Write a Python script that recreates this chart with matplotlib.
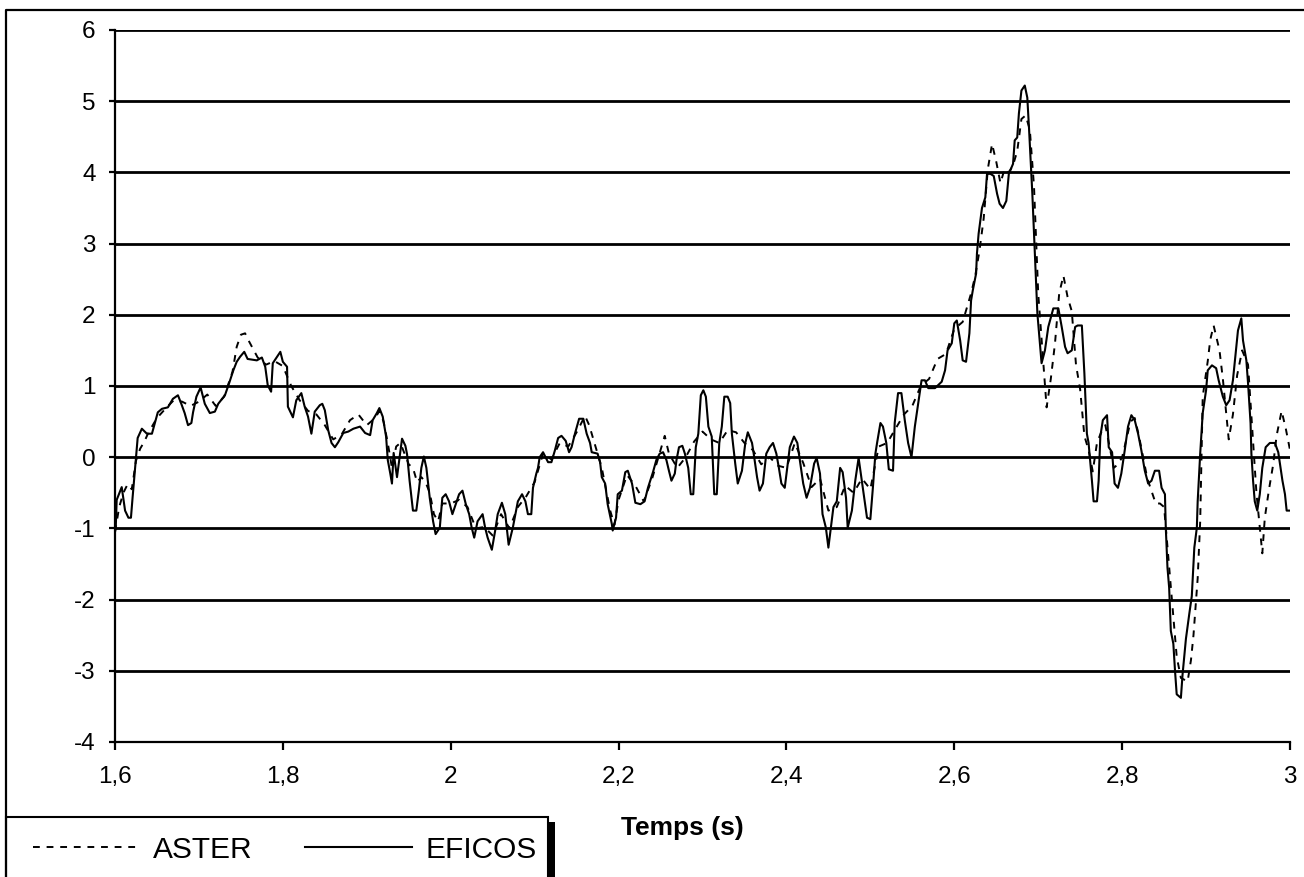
import matplotlib
matplotlib.use('Agg')
import matplotlib.pyplot as plt
from matplotlib.lines import Line2D
from matplotlib.patches import Rectangle

plt.rcParams['font.family'] = ['Liberation Sans', 'DejaVu Sans']

# EFICOS (solid) - time (s) and value
t_eficos = [1.600, 1.601, 1.602, 1.608, 1.612, 1.616, 1.619, 1.621, 1.624, 1.627, 1.632, 1.638, 1.644, 1.648, 1.651, 1.656,
            1.663, 1.669, 1.675, 1.679, 1.683, 1.687, 1.691, 1.693, 1.697, 1.702, 1.707, 1.713, 1.719, 1.723, 1.731, 1.736,
            1.741, 1.745, 1.749, 1.754, 1.758, 1.769, 1.775, 1.779, 1.782, 1.786, 1.788, 1.793, 1.797, 1.800, 1.805, 1.806,
            1.812, 1.816, 1.822, 1.826, 1.830, 1.834, 1.838, 1.844, 1.847, 1.850, 1.854, 1.858, 1.862, 1.866, 1.872, 1.878,
            1.884, 1.892, 1.898, 1.904, 1.907, 1.912, 1.915, 1.919, 1.923, 1.925, 1.928, 1.930, 1.932, 1.936, 1.942, 1.946,
            1.948, 1.951, 1.955, 1.959, 1.962, 1.965, 1.968, 1.971, 1.975, 1.979, 1.982, 1.987, 1.990, 1.994, 1.998, 2.002,
            2.006, 2.010, 2.014, 2.018, 2.022, 2.025, 2.028, 2.032, 2.038, 2.041, 2.044, 2.049, 2.053, 2.056, 2.061, 2.065,
            2.069, 2.074, 2.080, 2.085, 2.089, 2.092, 2.096, 2.098, 2.102, 2.104, 2.106, 2.110, 2.116, 2.120, 2.124, 2.128,
            2.132, 2.137, 2.141, 2.144, 2.148, 2.153, 2.158, 2.162, 2.166, 2.168, 2.175, 2.178, 2.180, 2.184, 2.187, 2.192,
            2.193, 2.197, 2.199, 2.204, 2.208, 2.211, 2.216, 2.220, 2.226, 2.231, 2.235, 2.241, 2.245, 2.249, 2.253, 2.257,
            2.260, 2.263, 2.267, 2.269, 2.272, 2.276, 2.279, 2.283, 2.286, 2.289, 2.292, 2.295, 2.298, 2.301, 2.304, 2.307,
            2.311, 2.314, 2.317, 2.320, 2.323, 2.326, 2.330, 2.333, 2.335, 2.339, 2.342, 2.347, 2.351, 2.354, 2.359, 2.361,
            2.365, 2.368, 2.372, 2.376, 2.380, 2.384, 2.388, 2.391, 2.394, 2.398, 2.401, 2.404, 2.409, 2.413, 2.416, 2.420,
            2.424, 2.428, 2.433, 2.436, 2.440, 2.443, 2.447, 2.450, 2.453, 2.456, 2.460, 2.464, 2.467, 2.471, 2.473, 2.478,
            2.482, 2.486, 2.491, 2.496, 2.500, 2.503, 2.506, 2.508, 2.512, 2.515, 2.519, 2.522, 2.527, 2.529, 2.533, 2.537,
            2.541, 2.545, 2.549, 2.553, 2.557, 2.561, 2.565, 2.569, 2.577, 2.585, 2.589, 2.592, 2.597, 2.600, 2.603, 2.607,
            2.610, 2.614, 2.618, 2.620, 2.622, 2.626, 2.627, 2.629, 2.633, 2.637, 2.639, 2.643, 2.647, 2.651, 2.654, 2.658,
            2.662, 2.665, 2.670, 2.672, 2.675, 2.677, 2.680, 2.684, 2.687, 2.689, 2.691, 2.693, 2.695, 2.697, 2.699, 2.701,
            2.704, 2.708, 2.712, 2.718, 2.724, 2.728, 2.732, 2.735, 2.740, 2.744, 2.747, 2.752, 2.755, 2.758, 2.760, 2.764,
            2.766, 2.770, 2.772, 2.774, 2.777, 2.782, 2.784, 2.788, 2.791, 2.795, 2.799, 2.803, 2.807, 2.811, 2.815, 2.819,
            2.823, 2.827, 2.831, 2.835, 2.839, 2.844, 2.847, 2.851, 2.852, 2.854, 2.856, 2.858, 2.861, 2.863, 2.865, 2.870,
            2.872, 2.876, 2.880, 2.883, 2.886, 2.889, 2.890, 2.893, 2.896, 2.900, 2.902, 2.907, 2.912, 2.915, 2.920, 2.924,
            2.928, 2.932, 2.936, 2.938, 2.942, 2.944, 2.948, 2.950, 2.953, 2.954, 2.956, 2.958, 2.961, 2.964, 2.967, 2.971,
            2.976, 2.982, 2.986, 2.991, 2.994, 2.996, 3.000]
eficos = [-1.05, -0.95, -0.6, -0.42, -0.75, -0.85, -0.85, -0.56, -0.15, 0.27, 0.4, 0.33, 0.33, 0.5, 0.63, 0.68,
          0.7, 0.82, 0.87, 0.75, 0.62, 0.45, 0.48, 0.63, 0.85, 0.98, 0.75, 0.62, 0.64, 0.75, 0.87, 1.04,
          1.22, 1.34, 1.41, 1.48, 1.38, 1.36, 1.4, 1.27, 1.01, 0.92, 1.32, 1.41, 1.48, 1.34, 1.27, 0.71,
          0.56, 0.8, 0.9, 0.71, 0.57, 0.33, 0.64, 0.73, 0.75, 0.66, 0.38, 0.2, 0.14, 0.21, 0.34, 0.36,
          0.4, 0.43, 0.34, 0.31, 0.52, 0.62, 0.69, 0.57, 0.29, -0.04, -0.23, -0.37, 0.06, -0.28, 0.26, 0.16,
          0.04, -0.33, -0.75, -0.75, -0.47, -0.15, 0.01, -0.15, -0.57, -0.9, -1.08, -0.99, -0.57, -0.52, -0.62, -0.8,
          -0.66, -0.52, -0.47, -0.66, -0.8, -0.99, -1.13, -0.9, -0.8, -0.99, -1.13, -1.3, -1.03, -0.8, -0.64, -0.8,
          -1.23, -0.99, -0.62, -0.52, -0.62, -0.8, -0.8, -0.43, -0.23, -0.15, 0.0, 0.07, -0.07, -0.07, 0.09, 0.27,
          0.3, 0.23, 0.07, 0.14, 0.33, 0.54, 0.54, 0.33, 0.2, 0.07, 0.05, -0.07, -0.28, -0.37, -0.66, -0.94,
          -1.03, -0.85, -0.52, -0.47, -0.21, -0.19, -0.37, -0.64, -0.66, -0.62, -0.43, -0.21, -0.04, 0.05, 0.07, -0.04,
          -0.19, -0.33, -0.23, -0.04, 0.14, 0.16, 0.05, -0.15, -0.52, -0.52, 0.14, 0.33, 0.87, 0.94, 0.85, 0.43,
          0.29, -0.52, -0.52, 0.2, 0.43, 0.85, 0.85, 0.76, 0.33, -0.09, -0.37, -0.19, 0.2, 0.35, 0.2, 0.05,
          -0.28, -0.47, -0.37, 0.05, 0.14, 0.2, 0.05, -0.15, -0.37, -0.43, -0.15, 0.14, 0.29, 0.2, -0.04, -0.37,
          -0.57, -0.43, -0.09, -0.01, -0.23, -0.8, -0.99, -1.27, -0.99, -0.7, -0.62, -0.15, -0.21, -0.57, -0.99, -0.75,
          -0.33, -0.01, -0.43, -0.85, -0.87, -0.43, 0.05, 0.2, 0.48, 0.43, 0.2, -0.17, -0.19, 0.48, 0.9, 0.9,
          0.52, 0.2, 0.0, 0.43, 0.76, 1.08, 1.08, 0.97, 0.97, 1.06, 1.22, 1.5, 1.6, 1.88, 1.92, 1.64,
          1.36, 1.34, 1.74, 2.2, 2.34, 2.58, 2.86, 3.14, 3.5, 3.65, 3.98, 3.98, 3.95, 3.7, 3.56, 3.5,
          3.6, 3.98, 4.12, 4.45, 4.49, 4.83, 5.15, 5.22, 5.05, 4.63, 4.17, 3.7, 3.14, 2.58, 2.02, 1.74,
          1.32, 1.5, 1.83, 2.09, 2.09, 1.83, 1.55, 1.46, 1.5, 1.83, 1.85, 1.85, 1.18, 0.33, 0.2, -0.33,
          -0.62, -0.62, -0.33, 0.29, 0.52, 0.59, 0.14, 0.07, -0.37, -0.43, -0.23, 0.09, 0.43, 0.59, 0.52, 0.33,
          0.09, -0.19, -0.37, -0.33, -0.19, -0.19, -0.43, -0.52, -0.99, -1.55, -1.83, -2.44, -2.62, -3.0, -3.33, -3.38,
          -3.05, -2.55, -2.2, -1.95, -1.27, -0.99, -0.62, 0.05, 0.62, 0.94, 1.22, 1.29, 1.25, 1.08, 0.85, 0.73,
          0.8, 1.08, 1.55, 1.78, 1.95, 1.64, 1.36, 1.04, 0.48, 0.05, -0.33, -0.62, -0.75, -0.52, -0.15, 0.14,
          0.2, 0.2, 0.07, -0.33, -0.52, -0.75, -0.75]

# ASTER (dashed)
t_aster = [1.600, 1.605, 1.610, 1.615, 1.620, 1.625, 1.630, 1.635, 1.640, 1.650, 1.660, 1.670, 1.680, 1.690, 1.700, 1.710,
           1.720, 1.730, 1.740, 1.745, 1.750, 1.755, 1.760, 1.770, 1.780, 1.790, 1.800, 1.810, 1.820, 1.830, 1.840, 1.850,
           1.860, 1.870, 1.880, 1.890, 1.900, 1.910, 1.915, 1.920, 1.925, 1.930, 1.935, 1.940, 1.945, 1.950, 1.955, 1.960,
           1.965, 1.970, 1.975, 1.980, 1.985, 1.990, 2.000, 2.010, 2.020, 2.030, 2.040, 2.050, 2.060, 2.070, 2.080, 2.090,
           2.100, 2.110, 2.120, 2.130, 2.140, 2.150, 2.160, 2.165, 2.170, 2.180, 2.190, 2.195, 2.200, 2.210, 2.220, 2.230,
           2.240, 2.250, 2.255, 2.260, 2.270, 2.280, 2.290, 2.300, 2.310, 2.320, 2.330, 2.340, 2.350, 2.360, 2.370, 2.380,
           2.390, 2.400, 2.410, 2.420, 2.430, 2.440, 2.450, 2.460, 2.470, 2.480, 2.490, 2.500, 2.510, 2.520, 2.530, 2.540,
           2.550, 2.560, 2.570, 2.580, 2.590, 2.600, 2.610, 2.620, 2.625, 2.630, 2.635, 2.640, 2.645, 2.650, 2.655, 2.660,
           2.665, 2.670, 2.675, 2.680, 2.685, 2.690, 2.695, 2.700, 2.705, 2.710, 2.715, 2.720, 2.725, 2.730, 2.735, 2.740,
           2.745, 2.750, 2.755, 2.760, 2.765, 2.770, 2.775, 2.780, 2.785, 2.790, 2.795, 2.800, 2.810, 2.815, 2.820, 2.830,
           2.840, 2.845, 2.850, 2.855, 2.860, 2.865, 2.870, 2.878, 2.882, 2.885, 2.890, 2.893, 2.896, 2.902, 2.905, 2.909,
           2.916, 2.920, 2.927, 2.932, 2.937, 2.943, 2.950, 2.955, 2.960, 2.967, 2.970, 2.975, 2.980, 2.984, 2.990, 2.995,
           3.000]
aster = [-1.05, -0.7, -0.5, -0.38, -0.45, -0.05, 0.12, 0.22, 0.35, 0.55, 0.68, 0.8, 0.78, 0.72, 0.78, 0.88,
         0.72, 0.85, 1.2, 1.55, 1.72, 1.74, 1.62, 1.4, 1.3, 1.35, 1.28, 1.0, 0.8, 0.65, 0.6, 0.45,
         0.25, 0.32, 0.52, 0.6, 0.45, 0.55, 0.65, 0.5, 0.2, -0.15, 0.15, 0.2, 0.05, -0.1, -0.15, -0.35,
         -0.28, -0.35, -0.5, -0.8, -0.9, -0.65, -0.65, -0.6, -0.7, -1.0, -0.98, -1.1, -0.8, -1.0, -0.7, -0.55,
         -0.35, 0.05, -0.03, 0.2, 0.15, 0.35, 0.58, 0.45, 0.25, -0.15, -0.75, -0.95, -0.6, -0.25, -0.4, -0.62,
         -0.3, 0.1, 0.3, 0.05, -0.15, 0.0, 0.22, 0.36, 0.25, 0.2, 0.38, 0.35, 0.2, 0.1, -0.1, 0.0,
         -0.12, -0.15, 0.2, -0.08, -0.42, -0.3, -0.75, -0.7, -0.4, -0.5, -0.3, -0.45, 0.15, 0.2, 0.4, 0.6,
         0.72, 1.0, 1.1, 1.38, 1.45, 1.8, 1.9, 2.3, 2.55, 2.9, 3.35, 4.05, 4.4, 4.15, 3.85, 4.05,
         4.0, 4.1, 4.3, 4.75, 4.8, 4.6, 3.8, 2.3, 1.5, 0.7, 1.1, 1.6, 2.3, 2.55, 2.25, 2.05,
         1.3, 0.95, 0.3, 0.1, -0.2, 0.2, 0.35, 0.45, 0.15, -0.15, -0.1, 0.0, 0.5, 0.55, 0.3, -0.3,
         -0.65, -0.65, -0.7, -1.4, -2.1, -2.8, -3.1, -3.15, -2.85, -2.5, -1.7, -0.9, 0.85, 1.35, 1.65, 1.85,
         1.5, 1.1, 0.25, 0.6, 1.15, 1.5, 1.3, 0.4, -0.5, -1.35, -0.85, -0.45, -0.1, 0.3, 0.65, 0.4,
         0.1]

x_ticks = [1.6, 1.8, 2.0, 2.2, 2.4, 2.6, 2.8, 3.0]
x_tick_labels = ['1,6', '1,8', '2', '2,2', '2,4', '2,6', '2,8', '3']
y_ticks = [-4, -3, -2, -1, 0, 1, 2, 3, 4, 5, 6]
y_tick_labels = ['-4', '-3', '-2', '-1', '0', '1', '2', '3', '4', '5', '6']

W, H = 1304, 877
fig = plt.figure(figsize=(W / 100, H / 100), dpi=100)
ax = fig.add_axes([115 / W, 1 - 742 / H, (1290 - 115) / W, (742 - 30) / H])

ax.plot(t_aster, aster, color='black', lw=1.4, linestyle=(0, (3.5, 3.5)), label='ASTER')
ax.plot(t_eficos, eficos, color='black', lw=1.5, label='EFICOS')

ax.set_xlim(1.6, 3.0)
ax.set_ylim(-4, 6)
ax.set_xticks(x_ticks)
ax.set_xticklabels(x_tick_labels)
ax.set_yticks(y_ticks)
ax.set_yticklabels(y_tick_labels)
ax.grid(axis='y', color='black', linewidth=2)
ax.set_axisbelow(True)

for s in ['top', 'right']:
    ax.spines[s].set_visible(False)
for s in ['left', 'bottom']:
    ax.spines[s].set_linewidth(1.6)
ax.tick_params(axis='y', direction='out', length=4, width=1.6, labelsize=17.5, pad=10)
ax.tick_params(axis='x', direction='out', length=5.5, width=1.6, labelsize=17.5, pad=12)

fig.text(682 / W, 1 - 835 / H, 'Temps (s)', ha='center', va='baseline',
         fontsize=19, fontweight='bold')

# outer frame (left and top edges visible)
fig.add_artist(Line2D([6 / W, 6 / W, 1], [0, 1 - 10 / H, 1 - 10 / H],
                      transform=fig.transFigure, color='black', lw=1.6))

# legend box with shadow, bottom-left
fig.add_artist(Rectangle((12 / W, -0.02), (555 - 12) / W, 0.02 + (H - 822) / H,
                         transform=fig.transFigure, facecolor='black', edgecolor='none'))
fig.add_artist(Rectangle((6 / W, -0.02), (548 - 6) / W, 0.02 + (H - 817) / H,
                         transform=fig.transFigure, facecolor='white', edgecolor='black', lw=1.5))
ly = 1 - 847 / H
fig.add_artist(Line2D([33 / W, 140 / W], [ly, ly], transform=fig.transFigure,
                      color='black', lw=1.4, linestyle=(0, (3.5, 3.5))))
fig.add_artist(Line2D([305 / W, 412 / W], [ly, ly], transform=fig.transFigure,
                      color='black', lw=1.5))
fig.text(153 / W, 1 - 858 / H, 'ASTER', ha='left', va='baseline', fontsize=21.5)
fig.text(425 / W, 1 - 858 / H, 'EFICOS', ha='left', va='baseline', fontsize=21.5)

fig.savefig('out.png', dpi=100)
